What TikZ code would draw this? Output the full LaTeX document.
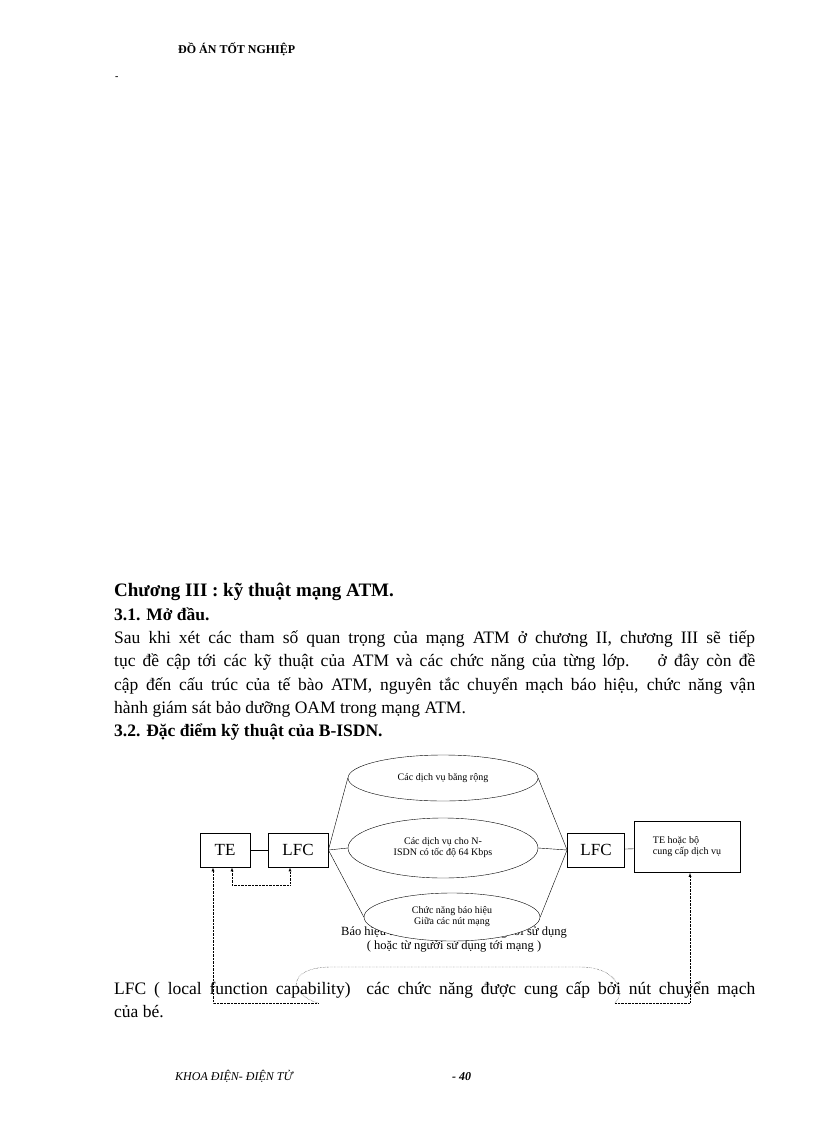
\documentclass[tikz,border=0pt]{standalone}
\usepackage{fontspec}
\setmainfont{Liberation Serif}
\usetikzlibrary{shapes.geometric}
\begin{document}
\begin{tikzpicture}[x=1pt,y=-1pt,
  bx/.style={draw,thick,minimum height=34pt,font=\fontsize{17}{19}\selectfont},
  ell/.style={draw,fill=white,ellipse,font=\fontsize{10}{11}\selectfont,align=center},
  dot/.style={densely dotted,thin},
  body/.style={anchor=base west,inner sep=0,font=\fontsize{17.5}{20}\selectfont}]
\useasboundingbox (0,0) rectangle (816,1123);
\node[anchor=base west,inner sep=0,font=\fontsize{12}{14}\selectfont\bfseries] (hd) at (178,54) {ĐỒ ÁN TỐT NGHIỆP};
\node[anchor=base west,inner sep=0,font=\bfseries] (dash) at (115,80) {-};
\node[body,font=\fontsize{19}{22}\selectfont\bfseries] (ch) at (114,596) {Chương III : kỹ thuật mạng ATM.};
\node[body,font=\fontsize{17.5}{20}\selectfont\bfseries] (s1) at (114,620) {3.1. Mở đầu.};
\node[body] (l1) at (114,643) {\makebox[641pt][s]{Sau khi xét các tham số quan trọng của mạng ATM ở chương II, chương III sẽ tiếp}};
\node[body] (l2) at (114,666) {\makebox[641pt][s]{tục đề cập tới các kỹ thuật của ATM và các chức năng của từng lớp. \ \ ở đây còn đề}};
\node[body] (l3) at (114,690) {\makebox[641pt][s]{cập đến cấu trúc của tế bào ATM, nguyên tắc chuyển mạch báo hiệu, chức năng vận}};
\node[body] (l4) at (114,713) {hành giám sát bảo dưỡng OAM trong mạng ATM.};
\node[body,font=\fontsize{17.5}{20}\selectfont\bfseries] (s2) at (114,736) {3.2. Đặc điểm kỹ thuật của B-ISDN.};
\node[body] (l5) at (114,994) {\makebox[641pt][s]{LFC ( local function capability) \ các chức năng được cung cấp bởi nút chuyển mạch}};
\node[body] (l6) at (114,1017) {của bé.};
\node[anchor=base west,inner sep=0,font=\fontsize{12}{14}\selectfont\itshape] (ft) at (175,1080) {KHOA ĐIỆN- ĐIỆN TỬ};
\node[anchor=base west,inner sep=0,font=\fontsize{12}{14}\selectfont\itshape\bfseries] (pg) at (452,1080) {- 40};
% diagram
\node[bx,minimum width=50pt] (te) at (225,850) {TE};
\node[bx,minimum width=60pt] (lfc1) at (298,850) {LFC};
\node[bx,minimum width=57pt] (lfc2) at (596,850) {LFC};
\node[draw,thick,minimum width=106pt,minimum height=51pt,align=left,font=\fontsize{10}{11}\selectfont] (tep) at (687,847) {TE hoặc bộ\\cung cấp dịch vụ};
\node[font=\fontsize{12.5}{14}\selectfont,align=center] (bh) at (454,939) {Báo hiệu từ người sử dụng tới người sử dụng\\( hoặc từ người sử dụng tới mạng )};
\node[ell,minimum width=190pt,minimum height=46pt] (e1) at (443,778) {Các dịch vụ băng rộng};
\node[ell,minimum width=190pt,minimum height=60pt] (e2) at (443,848) {Các dịch vụ cho N-\\ISDN có tốc độ 64 Kbps};
\node[ell,minimum width=176pt,minimum height=48pt] (e3) at (452,917) {Chức năng báo hiệu\\Giữa các nút mạng};
\draw (te) -- (lfc1);
\draw (lfc1.east) -- (e2.west);
\draw (lfc1.east) -- (e1.west);
\draw (lfc1.east) -- (e3.west);
\draw (e1.east) -- (lfc2.west);
\draw (e2.east) -- (lfc2.west);
\draw (e3.east) -- (lfc2.west);
\draw (lfc2) -- (tep);
% dotted
\coordinate (a1) at (213,1003);
\coordinate (a2) at (318,1003);
\coordinate (b1) at (690,1003);
\coordinate (b2) at (615,1003);
\coordinate (c1) at (232,885);
\coordinate (c2) at (290,885);
\draw[dot,-latex] (a2) -- (a1) -- (a1 |- te.south);
\draw[dot,-latex] (b2) -- (b1) -- (b1 |- tep.south);
\draw[dot,-latex] (c2) -- (c1) -- (c1 |- te.south);
\draw[dot,-latex] (c2) -- (c2 |- lfc1.south);
\draw[dot] (a2) .. controls (290,995) and (285,968) .. (330,967) -- (580,967) .. controls (620,967) and (625,995) .. (b2);
\end{tikzpicture}
\end{document}
